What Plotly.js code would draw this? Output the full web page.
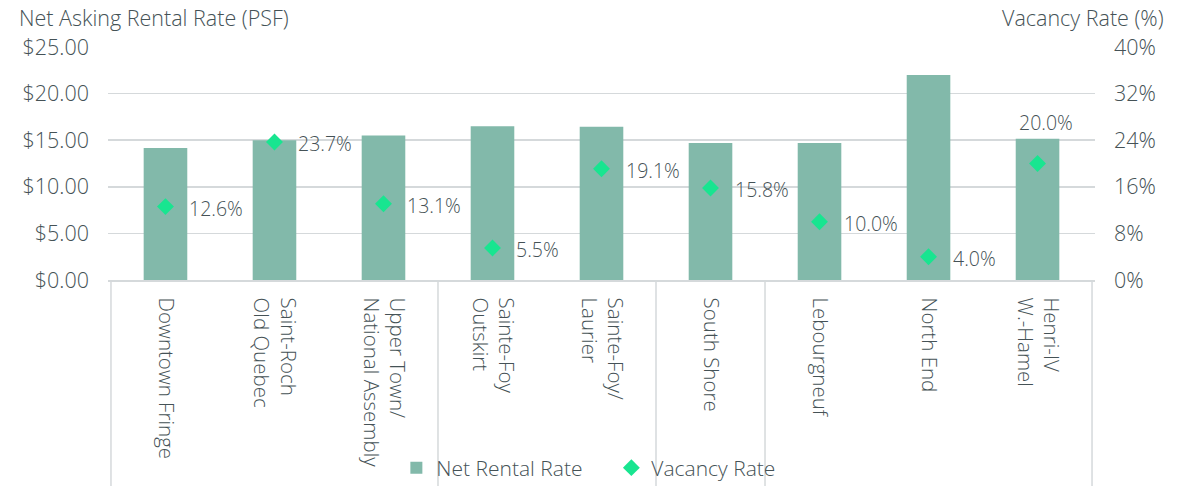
<!DOCTYPE html>
<html>
<head>
<meta charset="utf-8">
<script src="https://cdn.plot.ly/plotly-3.0.1.min.js"></script>
<style>html,body{margin:0;padding:0;background:#fff;}#chart{width:1191px;height:486px;}</style>
</head>
<body>
<div id="chart"></div>
<script>
const categories = ["Downtown Fringe", "Saint-Roch<br>Old Quebec", "Upper Town/<br>National Assembly", "Sainte-Foy<br>Outskirt", "Sainte-Foy/<br>Laurier", "South Shore", "Lebourgneuf", "North End", "Henri-IV<br>W.-Hamel"];
const groupSizes = [3, 2, 1, 3];
const netRentalRate = [14.15, 15.0, 15.5, 16.5, 16.45, 14.7, 14.7, 22.0, 15.15];
const vacancyRate = [12.6, 23.7, 13.1, 5.5, 19.1, 15.8, 10.0, 4.0, 20.0];
const labelAbove = [false, false, false, false, false, false, false, false, true];

const FONT = "'Open Sans', Roboto, sans-serif";
const W = 300;
const TXT = "#455256";
const GRID = "#d5d9db";

const traces = [
  {
    type: "bar", name: "Net Rental Rate", x: categories, y: netRentalRate,
    marker: {color: "#82b9aa"}, width: 0.4, yaxis: "y", hoverinfo: "skip"
  },
  {
    type: "scatter", mode: "markers", name: "Vacancy Rate", x: categories, y: vacancyRate,
    marker: {symbol: "diamond", size: 13, color: "#18e590"}, yaxis: "y2", hoverinfo: "skip"
  }
];

const annotations = vacancyRate.map((v, i) => labelAbove[i] ? {
  x: categories[i], y: v, xref: "x", yref: "y2", text: v.toFixed(1) + "%",
  showarrow: false, xanchor: "center", yanchor: "middle", xshift: 8, yshift: 41,
  font: {family: FONT, size: 19.5, color: TXT, weight: W}
} : {
  x: categories[i], y: v, xref: "x", yref: "y2", text: v.toFixed(1) + "%",
  showarrow: false, xanchor: "left", yanchor: "middle", xshift: 22, yshift: -2,
  font: {family: FONT, size: 19.5, color: TXT, weight: W}
});
annotations.push({
  xref: "paper", yref: "paper", x: -0.092, y: 1.0, yshift: 30, xanchor: "left", yanchor: "middle",
  text: "Net Asking Rental Rate (PSF)", showarrow: false, font: {family: FONT, size: 21.5, color: TXT, weight: W}
});
annotations.push({
  xref: "paper", yref: "paper", x: 1.072, y: 1.0, yshift: 30, xanchor: "right", yanchor: "middle",
  text: "Vacancy Rate (%)", showarrow: false, font: {family: FONT, size: 21.5, color: TXT, weight: W}
});

// group divider lines
const shapes = [];
const bounds = [-0.5];
let acc = 0;
groupSizes.forEach(g => { acc += g; bounds.push(acc - 0.5); });
bounds.forEach(b => shapes.push({
  type: "line", xref: "x", yref: "paper", x0: b, x1: b, y0: 0, y1: -1.0,
  line: {color: GRID, width: 1.5}
}));

const layout = {
  width: 1191, height: 486,
  margin: {l: 108, r: 96, t: 47, b: 206, autoexpand: false},
  paper_bgcolor: "#fff", plot_bgcolor: "#fff",
  showlegend: true,
  legend: {orientation: "h", x: 0.51, xanchor: "center", yref: "container", y: 0.037, yanchor: "middle",
    font: {family: FONT, size: 21, color: TXT, weight: W}, bgcolor: "rgba(0,0,0,0)", itemwidth: 30,
    entrywidth: 170, entrywidthmode: "pixels", traceorder: "normal"},
  bargap: 0.6,
  xaxis: {
    type: "category", tickangle: 90, ticks: "", showgrid: false,
    showline: true, linecolor: GRID, linewidth: 1.5, ticklabelstandoff: 12,
    tickfont: {family: FONT, size: 20.5, color: TXT, weight: W}, fixedrange: true
  },
  yaxis: {
    range: [0, 25], dtick: 5, tickformat: "$.2f", showgrid: true, gridcolor: GRID, gridwidth: 1.5,
    zeroline: false, showline: false, ticks: "", ticklabelstandoff: 18,
    tickfont: {family: FONT, size: 21.5, color: TXT, weight: W}, fixedrange: true
  },
  yaxis2: {
    range: [0, 40], dtick: 8, ticksuffix: "%", overlaying: "y", side: "right", showgrid: false,
    zeroline: false, showline: false, ticks: "", ticklabelstandoff: 18,
    tickfont: {family: FONT, size: 21.5, color: TXT, weight: W}, fixedrange: true
  },
  annotations: annotations,
  shapes: shapes
};

Plotly.newPlot("chart", traces, layout, {displayModeBar: false, staticPlot: true});
</script>
</body>
</html>
